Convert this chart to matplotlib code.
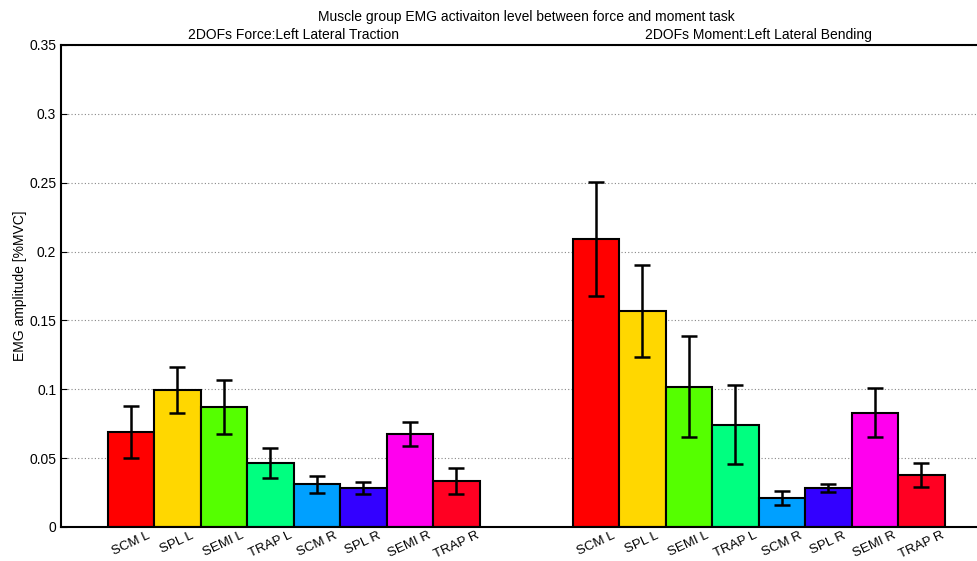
import numpy as np
import matplotlib
matplotlib.use("Agg")
import matplotlib.pyplot as plt

plt.rcParams['font.family'] = ['Liberation Sans', 'DejaVu Sans']

# muscle labels and colours
muscles = ["SCM L", "SPL L", "SEMI L", "TRAP L", "SCM R", "SPL R", "SEMI R", "TRAP R"]
colors = ["#FF0000", "#FFD700", "#55FF00", "#00FF80", "#00A0FF", "#3300FF", "#FF00EE", "#FF0022"]

# mean EMG level and error (force task / moment task)
force_mean = [0.069, 0.0995, 0.087, 0.0465, 0.031, 0.0283, 0.0675, 0.0334]
force_err = [0.019, 0.0165, 0.0195, 0.0112, 0.0062, 0.0044, 0.0085, 0.0092]
moment_mean = [0.209, 0.157, 0.102, 0.0743, 0.021, 0.0285, 0.0828, 0.0378]
moment_err = [0.0415, 0.0335, 0.037, 0.0285, 0.0052, 0.003, 0.0178, 0.0089]

titles = ["2DOFs Force:Left Lateral Traction", "2DOFs Moment:Left Lateral Bending"]

fig = plt.figure(figsize=(9.77, 5.61), dpi=100)
ax = fig.add_axes([61/977, 34/561, 1 - 61/977, (527-45)/561])

starts = [1, 11]
for g, (mean, err) in enumerate([(force_mean, force_err), (moment_mean, moment_err)]):
    x = starts[g] + 0.5 + np.arange(len(muscles))
    ax.bar(x, mean, width=1.0, color=colors, edgecolor="black", linewidth=1.5, zorder=2)
    ax.errorbar(x, mean, yerr=err, fmt="none", ecolor="black", elinewidth=1.8,
                capsize=6, capthick=1.8, zorder=3)
    for xi, lab in zip(x, muscles):
        ax.text(xi, -0.002, lab, rotation=25, ha="center", va="top", fontsize=9.5)
    ax.text(x.mean(), 0.3525, titles[g], ha="center", va="bottom", fontsize=10)

ax.set_xlim(0, (977-61)/46.5)
ax.set_ylim(0, 0.35)
ax.set_yticks(np.arange(0, 0.351, 0.05))
ax.set_yticklabels(["0", "0.05", "0.1", "0.15", "0.2", "0.25", "0.3", "0.35"], fontsize=10)
ax.set_xticks([])
ax.tick_params(axis="y", direction="in", length=4)
ax.yaxis.grid(True, linestyle=(0, (1, 2)), color="#888888", linewidth=0.8, zorder=0)
ax.set_axisbelow(True)
ax.spines["right"].set_visible(False)
for s in ["left", "top", "bottom"]:
    ax.spines[s].set_linewidth(1.5)
ax.set_ylabel("EMG amplitude [%MVC]", fontsize=10)
ax.yaxis.set_label_coords(-34/916, 0.5)

fig.text(526/977, 1 - 17/561, "Muscle group EMG activaiton level between force and moment task",
         ha="center", va="center", fontsize=10)

fig.savefig("out.png", dpi=100)
